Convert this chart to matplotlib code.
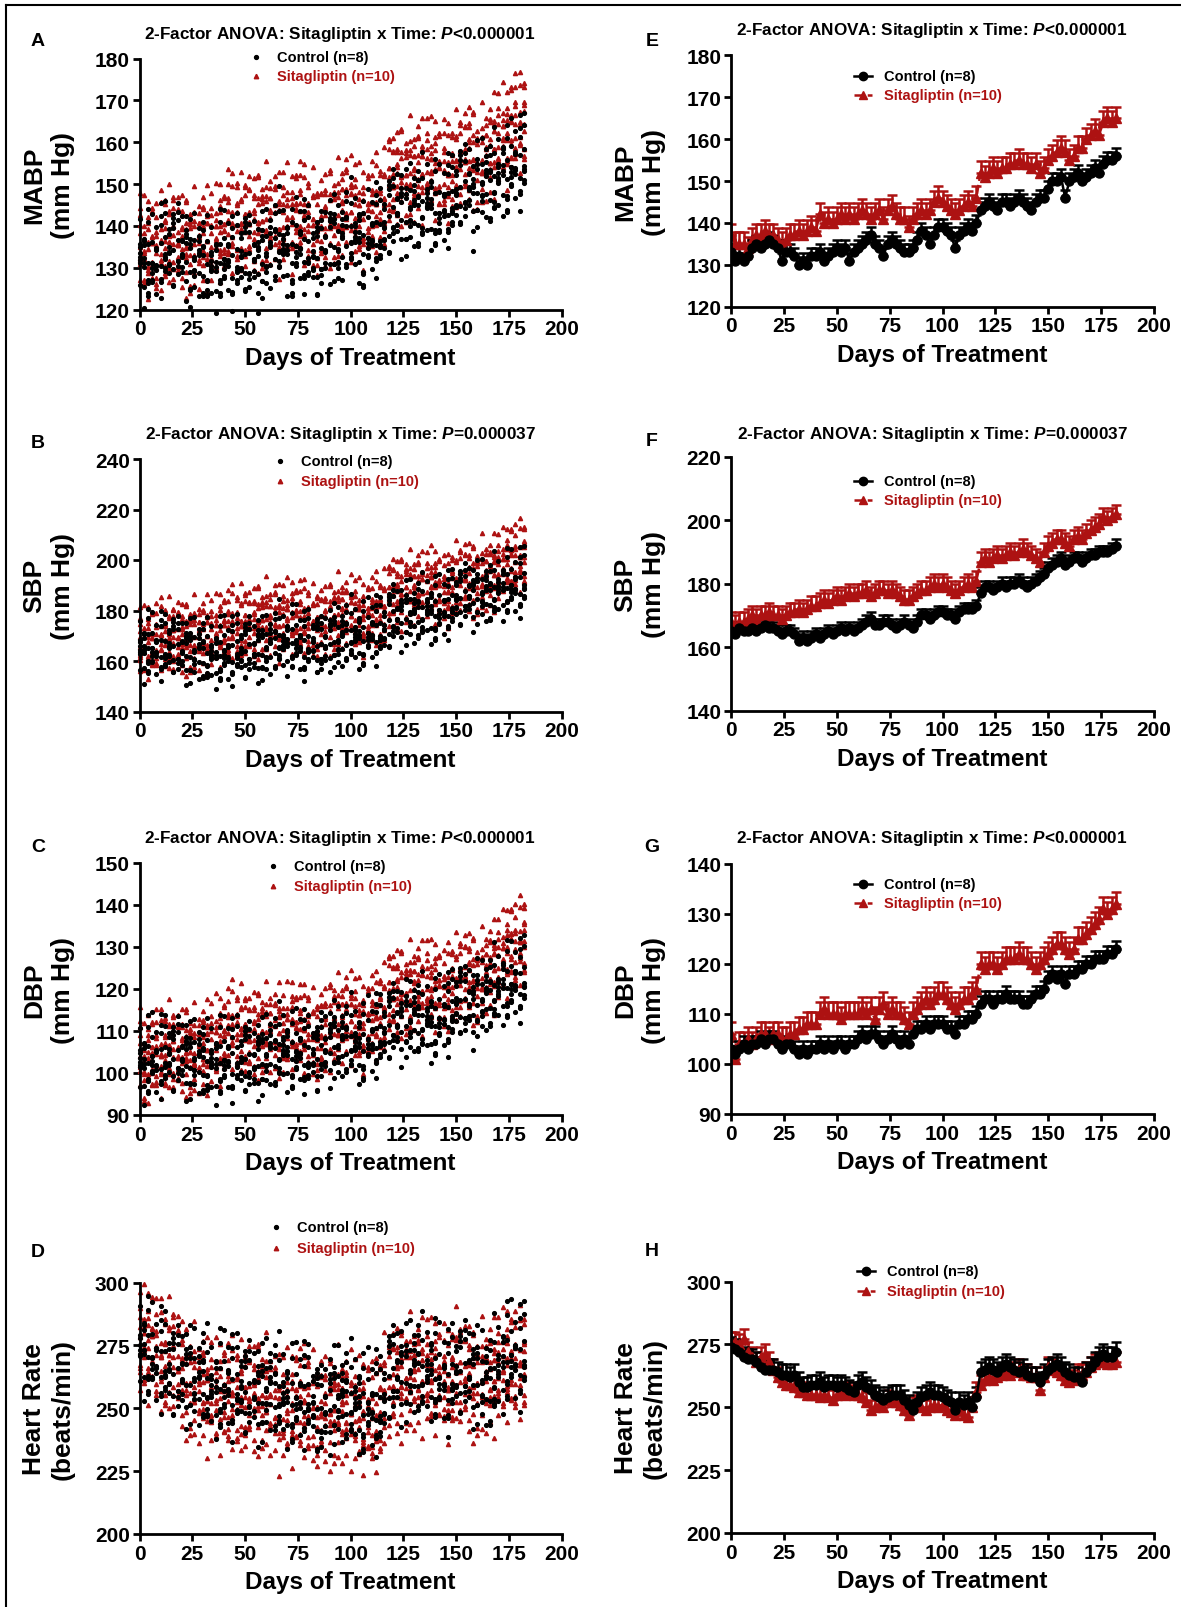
import numpy as np
import matplotlib
matplotlib.use('Agg')
import matplotlib.pyplot as plt
from matplotlib.lines import Line2D

W, H = 1181, 1608
plt.rcParams['font.family'] = ['Liberation Sans', 'DejaVu Sans']
plt.rcParams['font.weight'] = 'bold'
plt.rcParams['mathtext.fontset'] = 'custom'
plt.rcParams['mathtext.it'] = 'Liberation Sans:italic:bold'
plt.rcParams['mathtext.rm'] = 'Liberation Sans:bold'

RED = '#ad1212'

# sampling days (every 2nd day, 0..182)
days = np.arange(0, 183, 2)

ctl_mabp = [133, 131, 132, 131, 132, 134, 135, 134, 135, 136,
            135, 134, 131, 133, 133, 132, 130, 131, 130, 132,
            132, 133, 131, 132, 133, 134, 133, 134, 131, 133,
            134, 135, 136, 137, 135, 134, 132, 135, 136, 135,
            134, 133, 133, 134, 136, 138, 137, 135, 137, 139,
            139, 138, 137, 134, 137, 138, 139, 138, 140, 143,
            144, 145, 144, 143, 145, 145, 144, 145, 146, 145,
            144, 143, 145, 146, 146, 148, 150, 150, 151, 146,
            150, 151, 152, 150, 151, 152, 153, 152, 154, 155,
            155, 156]
sita_mabp = [137, 135, 135, 135, 134, 136, 137, 137, 138, 137,
             137, 136, 135, 136, 137, 137, 138, 137, 138, 139,
             138, 142, 140, 141, 140, 141, 142, 141, 142, 141,
             142, 143, 142, 141, 142, 143, 141, 143, 144, 142,
             141, 141, 139, 141, 142, 143, 142, 143, 145, 146,
             145, 144, 143, 142, 143, 144, 145, 144, 146, 152,
             151, 152, 153, 152, 153, 153, 154, 154, 155, 154,
             154, 153, 154, 152, 153, 155, 156, 157, 158, 157,
             155, 156, 158, 158, 160, 161, 162, 161, 164, 165,
             164, 165]
ctl_sbp = [165, 164, 166, 165, 165, 166, 165, 166, 167, 166,
           166, 165, 164, 165, 165, 164, 162, 163, 162, 163,
           164, 163, 164, 165, 164, 165, 166, 165, 166, 165,
           166, 167, 168, 169, 167, 167, 168, 168, 167, 166,
           167, 168, 167, 166, 168, 170, 170, 169, 170, 171,
           171, 170, 170, 169, 171, 172, 172, 172, 173, 177,
           179, 179, 178, 179, 180, 179, 180, 180, 181, 180,
           179, 180, 181, 182, 183, 185, 186, 187, 188, 186,
           187, 188, 188, 187, 188, 189, 189, 190, 190, 190,
           191, 192]
sita_sbp = [168, 167, 168, 168, 169, 170, 169, 170, 170, 171,
            170, 170, 169, 170, 171, 171, 172, 171, 172, 173,
            173, 174, 175, 174, 175, 176, 175, 176, 177, 176,
            177, 177, 178, 176, 177, 178, 178, 177, 178, 177,
            176, 175, 175, 176, 177, 178, 178, 179, 180, 179,
            180, 179, 178, 177, 178, 179, 180, 179, 181, 187,
            188, 187, 188, 189, 188, 189, 190, 189, 190, 191,
            190, 189, 188, 187, 190, 192, 193, 194, 194, 193,
            192, 194, 195, 194, 196, 197, 198, 199, 201, 200,
            201, 202]
ctl_dbp = [103, 102, 103, 104, 103, 104, 104, 105, 104, 105,
           105, 104, 103, 104, 104, 103, 102, 103, 102, 103,
           103, 104, 103, 104, 103, 104, 104, 103, 104, 104,
           105, 106, 105, 106, 106, 105, 104, 105, 106, 105,
           104, 105, 104, 106, 107, 107, 108, 107, 108, 108,
           108, 107, 107, 106, 108, 108, 109, 109, 110, 112,
           113, 113, 112, 113, 113, 114, 113, 113, 113, 112,
           112, 113, 114, 114, 115, 117, 118, 117, 118, 116,
           118, 118, 119, 119, 120, 120, 121, 121, 121, 122,
           122, 123]
sita_dbp = [106, 101, 104, 104, 105, 104, 105, 106, 106, 105,
            106, 106, 105, 105, 106, 106, 107, 107, 108, 108,
            108, 110, 111, 110, 110, 110, 109, 110, 110, 110,
            110, 111, 110, 111, 109, 111, 112, 110, 111, 110,
            110, 109, 108, 110, 111, 112, 113, 112, 113, 114,
            114, 113, 112, 111, 112, 113, 113, 114, 115, 120,
            119, 120, 120, 119, 120, 121, 121, 121, 122, 121,
            121, 120, 119, 120, 121, 122, 123, 124, 124, 123,
            122, 123, 125, 125, 126, 127, 128, 129, 131, 130,
            131, 132]
ctl_hr = [274, 273, 272, 270, 269, 269, 268, 266, 265, 265,
          265, 264, 263, 263, 262, 263, 260, 258, 258, 259,
          259, 260, 258, 259, 259, 258, 259, 258, 257, 256,
          259, 260, 258, 257, 255, 254, 253, 254, 255, 255,
          255, 253, 251, 249, 252, 254, 255, 256, 255, 255,
          254, 253, 252, 249, 252, 251, 252, 250, 254, 264,
          265, 266, 265, 264, 266, 267, 266, 265, 264, 265,
          263, 262, 262, 260, 263, 265, 266, 267, 266, 264,
          263, 262, 262, 260, 264, 266, 268, 270, 271, 270,
          270, 272]
sita_hr = [276, 276, 275, 277, 272, 270, 268, 270, 271, 268,
           265, 262, 260, 259, 259, 258, 256, 256, 255, 255,
           255, 254, 255, 254, 253, 255, 256, 255, 256, 255,
           255, 254, 252, 249, 250, 251, 250, 253, 252, 252,
           251, 249, 247, 250, 251, 250, 249, 250, 251, 250,
           251, 249, 248, 247, 249, 247, 246, 250, 256, 259,
           261, 262, 261, 262, 263, 264, 263, 264, 265, 263,
           263, 262, 262, 257, 262, 266, 265, 264, 263, 261,
           260, 261, 263, 263, 264, 266, 267, 268, 268, 267,
           267, 268]

# individual-animal offsets from the group mean (left panels) and daily wobble
ctl_offsets = [-9, -6, -4, -2, 1, 3, 6, 10]
sita_offsets = [-11, -8, -5, -3, -1, 1, 3, 5, 8, 11]
wobble = [0.0, 3.1, -2.4, 1.2, -3.6, 2.2, -0.8, 4.0, -1.5, 0.6, -2.9, 3.4, -4.2, 1.8, -0.3, 2.7, -1.9]

panels = [
    dict(letters=('A', 'E'), ylab='MABP\n(mm Hg)', ylim=(120, 180), yt=range(120, 181, 10),
         ctl=ctl_mabp, sita=sita_mabp, sem=(1.9, 2.7), spread=0.9,
         title=r'2-Factor ANOVA: Sitagliptin x Time: $P$<0.000001',
         left=(59.5, 310.6), right=(56.4, 307.6), ty=(34, 31), ly=(58, 77), rly=(77, 96)),
    dict(letters=('B', 'F'), ylab='SBP\n(mm Hg)', ylim=(140, 240), yt=range(140, 241, 20),
         rylim=(140, 220), ryt=range(140, 221, 20),
         ctl=ctl_sbp, sita=sita_sbp, sem=(2.0, 3.0), spread=1.1,
         title=r'2-Factor ANOVA: Sitagliptin x Time: $P$=0.000037',
         left=(460, 712.5), right=(458, 711.5), ty=(435, 435), ly=(462, 482), rly=(482, 501)),
    dict(letters=('C', 'G'), ylab='DBP\n(mm Hg)', ylim=(90, 150), yt=range(90, 151, 10),
         rylim=(90, 140), ryt=range(90, 141, 10),
         ctl=ctl_dbp, sita=sita_dbp, sem=(1.7, 2.5), spread=0.8,
         title=r'2-Factor ANOVA: Sitagliptin x Time: $P$<0.000001',
         left=(864, 1116), right=(865, 1115), ty=(838, 838), ly=(867, 887), rly=(885, 904)),
    dict(letters=('D', 'H'), ylab='Heart Rate\n(beats/min)', ylim=(200, 300), yt=range(200, 301, 25),
         ctl=ctl_hr, sita=sita_hr, sem=(4.0, 4.0), spread=1.7,
         title=None,
         left=(1283.5, 1535), right=(1282.5, 1534), ty=None, ly=(1228, 1249), rly=(1272, 1292)),
]

letter_y = [(41, 41), (443, 442), (848, 848), (1253, 1252)]

fig = plt.figure(figsize=(W / 100, H / 100), dpi=100)


def rect(x0, x1, top, bottom):
    return [x0 / W, 1 - bottom / H, (x1 - x0) / W, (bottom - top) / H]


def style_axes(ax, ylim, yticks, ylabel):
    for s in ['top', 'right']:
        ax.spines[s].set_visible(False)
    for s in ['left', 'bottom']:
        ax.spines[s].set_linewidth(2)
    ax.set_xlim(0, 200)
    ax.set_xticks(range(0, 201, 25))
    ax.set_ylim(*ylim)
    ax.set_yticks(list(yticks))
    ax.tick_params(width=2, length=5, labelsize=15, pad=2)
    for t in ax.get_xticklabels() + ax.get_yticklabels():
        t.set_fontweight('bold')
    ax.set_xlabel('Days of Treatment', fontsize=17.5, fontweight='bold', va='center')
    ax.xaxis.set_label_coords(0.5, -0.19)
    ax.set_ylabel(ylabel, fontsize=19, fontweight='bold', linespacing=1.25, va='center')
    ax.yaxis.set_label_coords(-0.215, 0.5)


def add_entry(xh, y, text, color, marker, ms, ls=None):
    fy = 1 - y / H
    if ls is not None:
        fig.add_artist(Line2D([xh / W, (xh + 18) / W], [fy, fy], color=color, ls=ls, lw=1.8))
        fig.add_artist(Line2D([(xh + 9) / W], [fy], color=color, marker=marker, ms=ms, lw=0))
        tx = xh + 30
    else:
        fig.add_artist(Line2D([xh / W], [fy], color=color, marker=marker, ms=ms, lw=0))
        tx = xh + 21
    fig.text(tx / W, fy, text, color=color, fontsize=10.5, fontweight='bold', va='center', ha='left')


for i, p in enumerate(panels):
    # left: individual animals
    axl = fig.add_axes(rect(139.5, 561.8, *p['left']))
    for k, off in enumerate(sita_offsets):
        vals = [m + p['spread'] * (off + wobble[(j * 5 + k * 3) % 17]) for j, m in enumerate(p['sita'])]
        axl.plot(days, vals, ls='none', marker='^', ms=3.0, color=RED, mec=RED, clip_on=False)
    for k, off in enumerate(ctl_offsets):
        vals = [m + p['spread'] * (off + wobble[(j * 7 + k * 4 + 3) % 17]) for j, m in enumerate(p['ctl'])]
        axl.plot(days, vals, ls='none', marker='o', ms=2.7, color='black', clip_on=False)
    style_axes(axl, p['ylim'], p['yt'], p['ylab'])

    # right: group mean + SEM
    axr = fig.add_axes(rect(731, 1154, *p['right']))
    sita = np.array(p['sita'], dtype=float)
    ctl = np.array(p['ctl'], dtype=float)
    axr.errorbar(days, sita, yerr=[np.zeros_like(sita), np.full_like(sita, p['sem'][1])],
                 color=RED, ls='--', lw=1.8, marker='^', ms=6.5, capsize=3.5, elinewidth=1.8, capthick=1.8)
    axr.errorbar(days, ctl, yerr=[np.zeros_like(ctl), np.full_like(ctl, p['sem'][0])],
                 color='black', ls='-', lw=1.8, marker='o', ms=6.5, capsize=3.5, elinewidth=1.8, capthick=1.8)
    style_axes(axr, p.get('rylim', p['ylim']), p.get('ryt', p['yt']), p['ylab'])

    # titles
    if p['title']:
        fig.text(340 / W, 1 - p['ty'][0] / H, p['title'], fontsize=12.3, fontweight='bold', ha='center', va='center')
        fig.text(932 / W, 1 - p['ty'][1] / H, p['title'], fontsize=12.3, fontweight='bold', ha='center', va='center')

    # panel letters
    fig.text(38 / W, 1 - letter_y[i][0] / H, p['letters'][0], fontsize=14, fontweight='bold', ha='center', va='center')
    fig.text(652 / W, 1 - letter_y[i][1] / H, p['letters'][1], fontsize=14, fontweight='bold', ha='center', va='center')

    # legends
    lx = [256, 280, 273, 276][i]
    add_entry(lx, p['ly'][0], 'Control (n=8)', 'black', 'o', 2.8)
    add_entry(lx, p['ly'][1], 'Sitagliptin (n=10)', RED, '^', 3.2)
    rx = [854, 854, 854, 857][i]
    add_entry(rx, p['rly'][0], 'Control (n=8)', 'black', 'o', 6, '-')
    add_entry(rx, p['rly'][1], 'Sitagliptin (n=10)', RED, '^', 6, '--')

# outer frame
fig.add_artist(Line2D([6 / W, 6 / W], [0, 1 - 6 / H], color='black', lw=1.5))
fig.add_artist(Line2D([6 / W, 1], [1 - 6 / H, 1 - 6 / H], color='black', lw=1.5))

fig.savefig('out.png', dpi=100)
